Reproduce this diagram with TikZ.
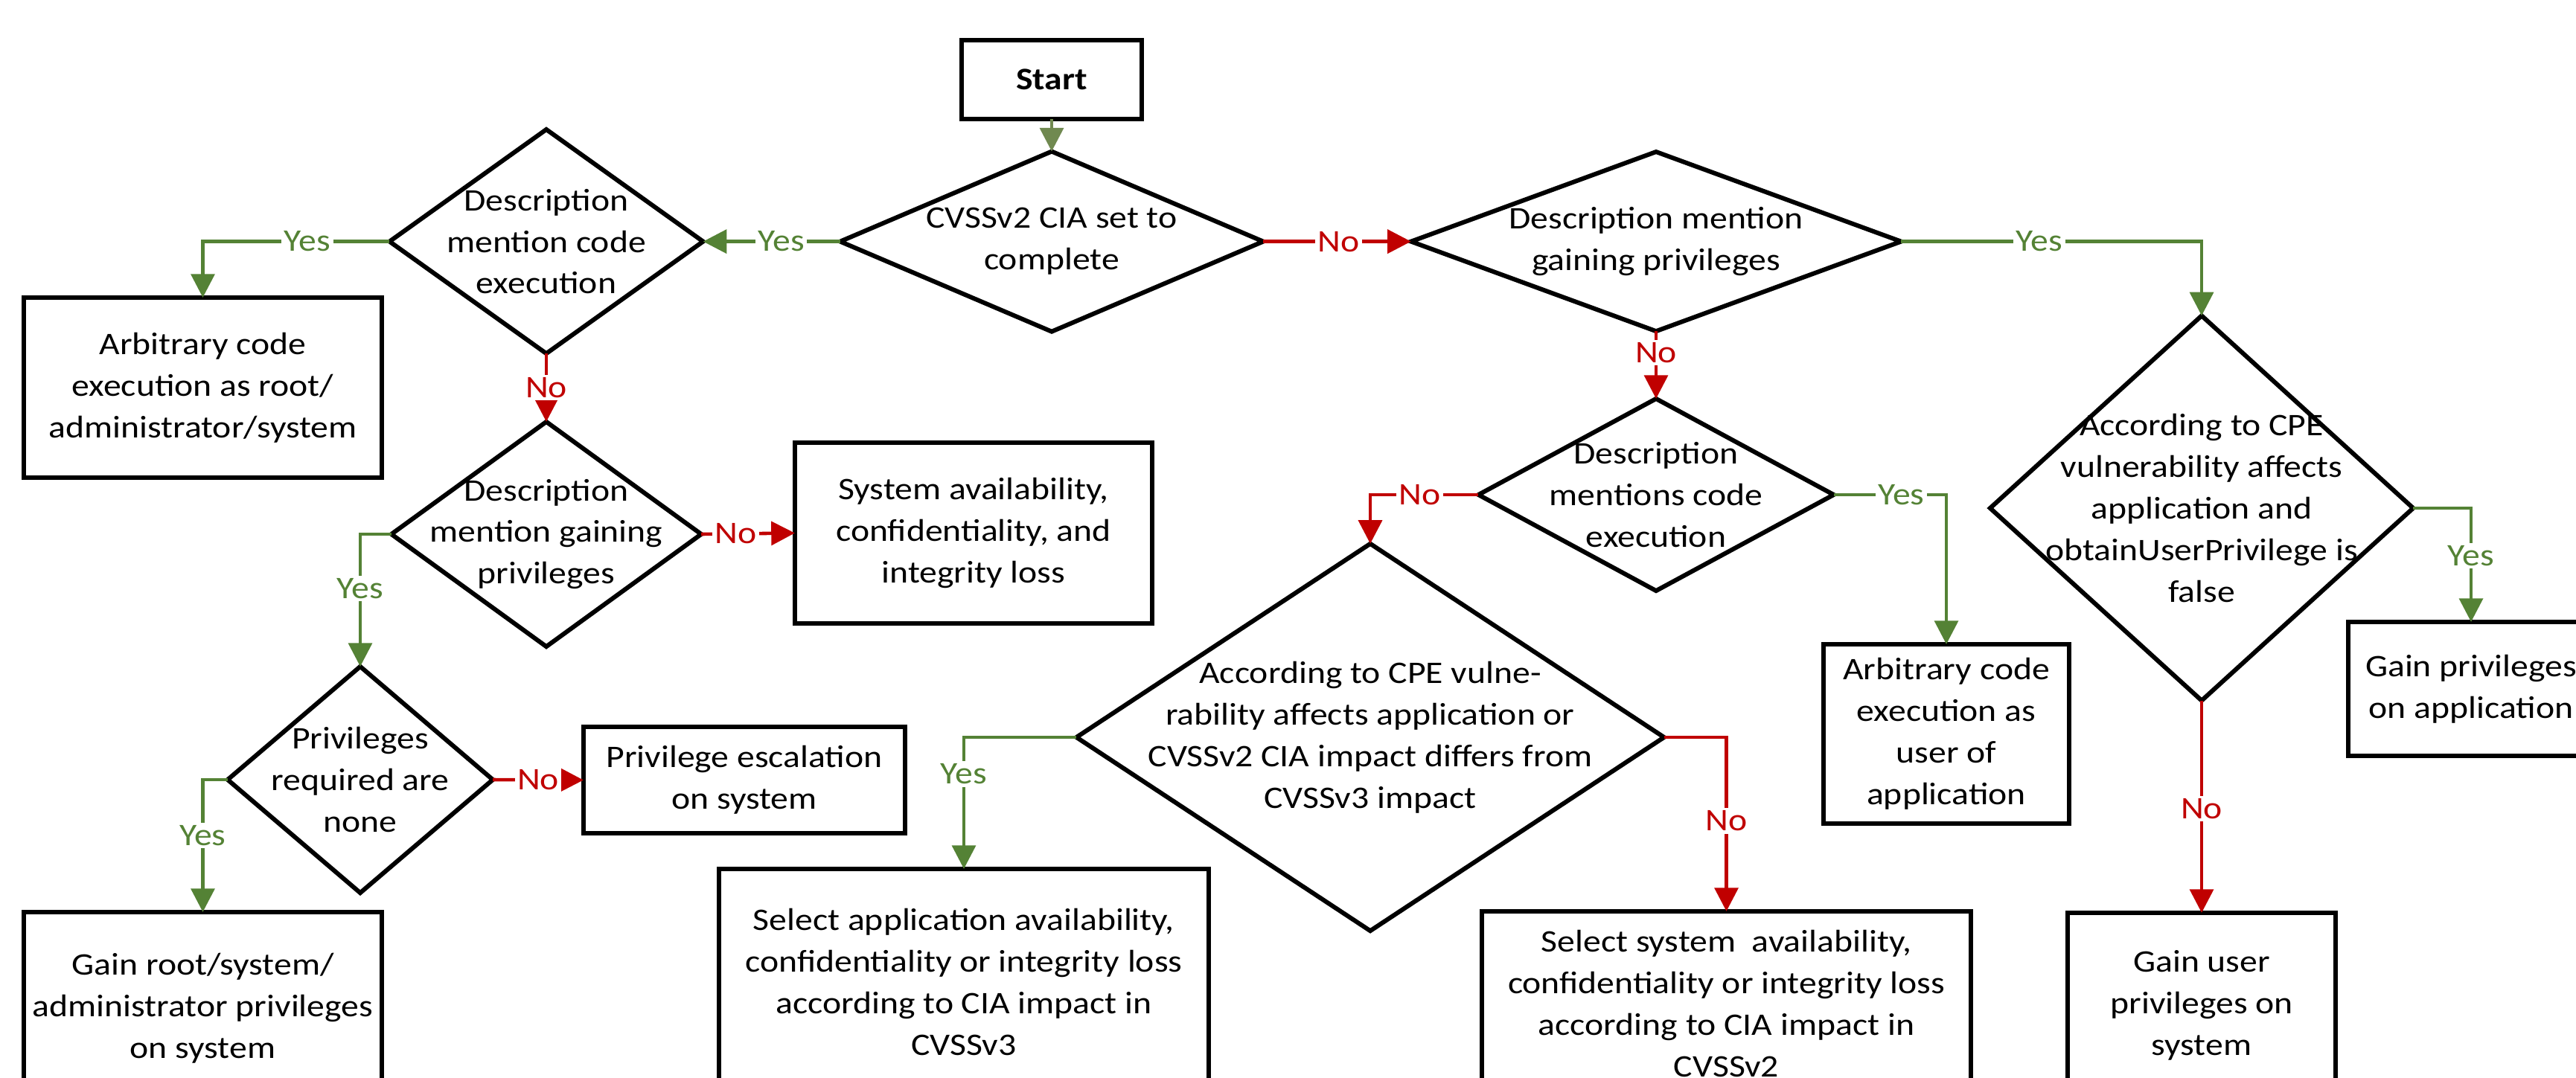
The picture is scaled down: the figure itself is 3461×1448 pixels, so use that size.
\documentclass[tikz,border=0pt]{standalone}
\usepackage{fontspec}
\setmainfont{Carlito}[FakeStretch=1.13]
\usetikzlibrary{shapes.geometric,arrows.meta}

\definecolor{yesgreen}{RGB}{84,130,53}
\definecolor{nored}{RGB}{192,0,0}
\definecolor{startgreen}{RGB}{112,137,80}
\newcommand{\flowfont}{\fontsize{12}{15.9}\selectfont}

\tikzset{
    decision/.style={diamond, draw, line width=1.7pt, inner sep=0pt, outer sep=0pt},
    outcome/.style={rectangle, draw, line width=1.7pt, inner sep=0pt, outer sep=0pt, align=center},
    yesline/.style={draw=yesgreen, line width=1.3pt, -{Triangle[length=9pt,width=9pt]}},
    noline/.style={draw=nored, line width=1.3pt, -{Triangle[length=9pt,width=9pt]}},
    yeslabel/.style={fill=white, text=yesgreen, inner sep=1pt},
    nolabel/.style={fill=white, text=nored, inner sep=1pt},
    every label/.style={align=center, font=\flowfont}
}

\begin{document}
\begin{tikzpicture}[x=0.01cm, y=-0.01cm, font=\flowfont]
    \useasboundingbox (0,0) rectangle (3461,1448);
    \clip (0,0) rectangle (3461,1448);

    \node [outcome, minimum width=2.42cm, minimum height=1.06cm] (start) at (1413,107) {\bfseries Start};

    \node [decision, minimum width=5.68cm, minimum height=2.42cm, label={center:CVSSv2 CIA set to\\complete}] (cvss) at (1413,324.6) {};
    \node [decision, minimum width=4.21cm, minimum height=3.01cm, label={center:Description\\mention code\\execution}] (codeexec) at (734,324.6) {};
    \node [decision, minimum width=4.16cm, minimum height=3.02cm, label={center:Description\\mention gaining\\privileges}] (gainpriv) at (734,718) {};
    \node [decision, minimum width=3.56cm, minimum height=3.04cm, label={center:Privileges\\required are\\none}] (privnone) at (484,1048) {};
    \node [decision, minimum width=6.58cm, minimum height=2.41cm, label={center:Description mention\\gaining privileges}] (gainprivb) at (2225,324.6) {};
    \node [decision, minimum width=4.77cm, minimum height=2.58cm, label={center:Description\\mentions code\\execution}] (codeexecb) at (2225,665) {};
    \node [decision, minimum width=7.89cm, minimum height=5.20cm, label={center:According to CPE vulne-\\rability affects application or\\CVSSv2 CIA impact differs from\\CVSSv3 impact}] (cpeor) at (1841,991) {};
    \node [decision, minimum width=5.68cm, minimum height=5.17cm, label={center:According to CPE\\vulnerability affects\\application and\\obtainUserPrivilege is\\false}] (cpeand) at (2958,683) {};

    \node [outcome, minimum width=4.81cm, minimum height=2.42cm] (rootexec) at (272.5,521) {Arbitrary code\\execution as root/\\administrator/system};
    \node [outcome, minimum width=4.80cm, minimum height=2.43cm] (ciasys) at (1308,716.5) {System availability,\\confidentiality, and\\integrity loss};
    \node [outcome, minimum width=4.32cm, minimum height=1.43cm] (escal) at (1000,1048.5) {Privilege escalation\\on system};
    \node [outcome, minimum width=4.81cm, minimum height=2.58cm] (rootpriv) at (272.5,1355) {Gain root/system/\\administrator privileges\\on system};
    \node [outcome, minimum width=6.58cm, minimum height=3.04cm] (selapp) at (1295,1320) {Select application availability,\\confidentiality or integrity loss\\according to CIA impact in\\CVSSv3};
    \node [outcome, minimum width=6.57cm, minimum height=2.48cm] (selsys) at (2319.5,1349) {Select system\ \ availability,\\confidentiality or integrity loss\\according to CIA impact in\\CVSSv2};
    \node [outcome, minimum width=3.30cm, minimum height=2.41cm] (userexec) at (2615,986.5) {Arbitrary code\\execution as\\user of\\application};
    \node [outcome, minimum width=3.30cm, minimum height=1.80cm] (apppriv) at (3320,926) {Gain privileges\\on application};
    \node [outcome, minimum width=3.60cm, minimum height=2.48cm] (userpriv) at (2958,1351) {Gain user\\privileges on\\system};

    \draw [draw=startgreen, line width=1.3pt, -{Triangle[length=9pt,width=9pt]}] (start) -- (cvss);
    \draw [yesline] (cvss.west) -- node [pos=0.43, yeslabel] {Yes} (codeexec.east);
    \draw [noline] (cvss.east) -- node [pos=0.51, nolabel] {No} (gainprivb.west);
    \draw [yesline] (codeexec.west) -| node [pos=0.22, yeslabel] {Yes} (rootexec.north);
    \draw [noline] (codeexec.south) -- node [pos=0.5, nolabel] {No} (gainpriv.north);
    \draw [yesline] (gainpriv.west) -| node [pos=0.705, yeslabel] {Yes} (privnone.north);
    \draw [noline] (gainpriv.east) -- node [pos=0.37, nolabel] {No} (ciasys.west);
    \draw [yesline] (privnone.west) -| node [pos=0.71, yeslabel] {Yes} (rootpriv.north);
    \draw [noline] (privnone.east) -- node [pos=0.5, nolabel] {No} (escal.west);
    \draw [noline] (gainprivb.south) -- node [pos=0.32, nolabel] {No} (codeexecb.north);
    \draw [yesline] (gainprivb.east) -| node [pos=0.23, yeslabel] {Yes} (cpeand.north);
    \draw [noline] (codeexecb.west) -| node [pos=0.27, nolabel] {No} (cpeor.north);
    \draw [yesline] (codeexecb.east) -| node [pos=0.3, yeslabel] {Yes} (userexec.north);
    \draw [yesline] (cpeor.west) -| node [pos=0.64, yeslabel] {Yes} (selapp.north);
    \draw [noline] (cpeor.east) -| node [pos=0.74, nolabel] {No} (selsys.north);
    \draw [yesline] (cpeand.east) -| node [pos=0.71, yeslabel] {Yes} (apppriv.north);
    \draw [noline] (cpeand.south) -- node [pos=0.51, nolabel] {No} (userpriv.north);
\end{tikzpicture}
\end{document}
